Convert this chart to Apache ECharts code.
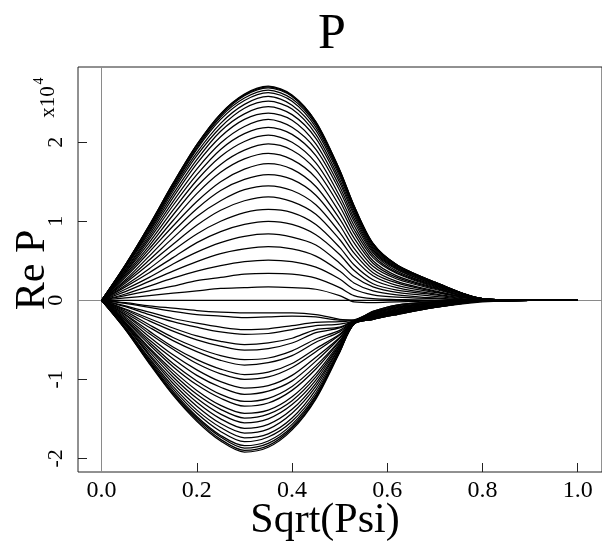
<!DOCTYPE html>
<html><head><meta charset="utf-8">
<script src="https://cdn.jsdelivr.net/npm/echarts@6/dist/echarts.min.js"></script>
<style>html,body{margin:0;padding:0;background:#fff}#chart{width:602px;height:541px}</style>
</head><body><div id="chart"></div>
<script>
// x positions (Sqrt(Psi)) at which each curve was read
const sqrtPsi = [0, 0.05, 0.1, 0.15, 0.2, 0.25, 0.3, 0.35, 0.4, 0.45, 0.5, 0.53, 0.57, 0.62, 0.7, 0.8, 0.9, 1.0];
// Re P values in units of 1e4, upper family (top curve first)
const up01 = [0,.45,.95,1.48,1.97,2.36,2.61,2.71,2.6,2.26,1.65,1.2,.72,.45,.23,.02,0,0];
const up02 = [0,.45,.95,1.48,1.97,2.36,2.6,2.7,2.59,2.26,1.65,1.2,.72,.45,.23,.02,0,0];
const up03 = [0,.45,.94,1.47,1.95,2.34,2.59,2.69,2.58,2.24,1.64,1.19,.71,.45,.23,.02,0,0];
const up04 = [0,.44,.93,1.45,1.93,2.32,2.56,2.66,2.55,2.22,1.62,1.18,.71,.44,.22,.02,0,0];
const up05 = [0,.44,.92,1.43,1.91,2.29,2.53,2.63,2.52,2.19,1.6,1.16,.7,.43,.22,.02,0,0];
const up06 = [0,.43,.9,1.41,1.87,2.24,2.48,2.58,2.47,2.15,1.57,1.14,.68,.42,.22,.02,0,0];
const up07 = [0,.42,.88,1.38,1.83,2.19,2.43,2.52,2.42,2.1,1.53,1.11,.66,.41,.21,.02,0,0];
const up08 = [0,.41,.86,1.34,1.78,2.14,2.36,2.45,2.35,2.05,1.49,1.08,.64,.4,.2,.02,0,0];
const up09 = [0,.39,.83,1.3,1.73,2.07,2.29,2.37,2.28,1.98,1.44,1.04,.62,.39,.2,.02,0,0];
const up10 = [0,.38,.8,1.25,1.66,1.99,2.2,2.29,2.19,1.91,1.39,1,.6,.37,.19,.02,0,0];
const up11 = [0,.36,.77,1.2,1.59,1.91,2.11,2.19,2.1,1.83,1.32,.95,.57,.35,.18,.02,0,0];
const up12 = [0,.35,.73,1.14,1.52,1.82,2.01,2.09,2,1.74,1.26,.9,.54,.34,.17,.01,0,0];
const up13 = [0,.33,.69,1.08,1.44,1.72,1.9,1.98,1.9,1.65,1.19,.85,.5,.31,.16,.01,0,0];
const up14 = [0,.31,.65,1.01,1.35,1.62,1.79,1.86,1.78,1.55,1.11,.79,.47,.29,.15,.01,0,0];
const up15 = [0,.29,.61,.94,1.25,1.5,1.66,1.73,1.66,1.44,1.03,.73,.43,.27,.14,.01,0,0];
const up16 = [0,.26,.56,.87,1.16,1.39,1.53,1.59,1.53,1.33,.95,.66,.39,.24,.12,.01,0,0];
const up17 = [0,.24,.51,.79,1.06,1.26,1.4,1.45,1.39,1.21,.86,.6,.35,.22,.11,.01,0,0];
const up18 = [0,.22,.46,.71,.95,1.14,1.26,1.31,1.25,1.09,.77,.53,.31,.19,.1,.01,0,0];
const up19 = [0,.19,.4,.63,.84,1,1.11,1.15,1.11,.96,.67,.45,.26,.16,.08,.01,0,0];
const up20 = [0,.17,.35,.54,.73,.87,.96,1,.96,.83,.58,.38,.21,.13,.07,0,0,0];
const up21 = [0,.14,.29,.46,.61,.73,.81,.84,.8,.7,.47,.3,.17,.1,.05,0,0,0];
const up22 = [0,.11,.24,.37,.49,.59,.65,.68,.65,.56,.37,.22,.12,.07,.03,0,0,0];
const up23 = [0,.08,.18,.28,.37,.44,.49,.51,.49,.42,.27,.14,.07,.04,.02,0,0,0];
const up24 = [0,.06,.12,.18,.25,.29,.33,.34,.33,.28,.16,.06,.02,.01,0,0,0,0];
const up25 = [0,.03,.06,.09,.12,.15,.16,.17,.16,.14,.06,-.02,-.03,-.02,-.01,0,0,0];
const mid00 = [0,0,0,0,0,0,0,0,0,0,0,0,0,0,0,0,0,0];
// lower family (closest to zero first)
const lo01 = [0,-.03,-.07,-.1,-.13,-.15,-.16,-.16,-.16,-.18,-.24,-.25,-.14,-.06,-.02,0,0,0];
const lo02 = [0,-.04,-.09,-.14,-.18,-.2,-.22,-.21,-.2,-.21,-.25,-.25,-.14,-.06,-.02,0,0,0];
const lo03 = [0,-.07,-.15,-.23,-.29,-.34,-.37,-.36,-.32,-.28,-.27,-.25,-.15,-.07,-.02,0,0,0];
const lo04 = [0,-.08,-.18,-.27,-.34,-.4,-.43,-.42,-.37,-.32,-.3,-.26,-.16,-.08,-.03,0,0,0];
const lo05 = [0,-.11,-.23,-.35,-.45,-.52,-.56,-.54,-.48,-.37,-.34,-.26,-.16,-.09,-.03,0,0,0];
const lo06 = [0,-.12,-.26,-.39,-.5,-.58,-.63,-.61,-.54,-.41,-.35,-.26,-.17,-.09,-.04,-.01,0,0];
const lo07 = [0,-.14,-.31,-.47,-.6,-.7,-.75,-.73,-.64,-.49,-.38,-.26,-.17,-.1,-.04,-.01,0,0];
const lo08 = [0,-.16,-.34,-.51,-.65,-.76,-.82,-.79,-.7,-.53,-.4,-.27,-.18,-.11,-.04,-.01,0,0];
const lo09 = [0,-.18,-.39,-.59,-.75,-.87,-.94,-.91,-.8,-.61,-.43,-.27,-.18,-.11,-.05,-.01,0,0];
const lo10 = [0,-.19,-.42,-.62,-.8,-.93,-1,-.97,-.85,-.65,-.44,-.27,-.19,-.12,-.05,-.01,0,0];
const lo11 = [0,-.21,-.46,-.69,-.88,-1.03,-1.11,-1.08,-.95,-.72,-.47,-.27,-.19,-.12,-.06,-.01,0,0];
const lo12 = [0,-.23,-.5,-.74,-.95,-1.1,-1.19,-1.15,-1.02,-.77,-.48,-.28,-.2,-.13,-.06,-.01,0,0];
const lo13 = [0,-.25,-.53,-.8,-1.02,-1.19,-1.28,-1.24,-1.09,-.83,-.51,-.28,-.2,-.14,-.06,-.01,0,0];
const lo14 = [0,-.26,-.56,-.84,-1.07,-1.24,-1.34,-1.3,-1.14,-.87,-.52,-.28,-.21,-.14,-.07,-.01,0,0];
const lo15 = [0,-.28,-.6,-.89,-1.14,-1.33,-1.43,-1.39,-1.22,-.93,-.54,-.28,-.21,-.15,-.07,-.01,0,0];
const lo16 = [0,-.29,-.62,-.93,-1.19,-1.38,-1.49,-1.44,-1.27,-.97,-.56,-.29,-.21,-.15,-.07,-.01,0,0];
const lo17 = [0,-.3,-.65,-.97,-1.24,-1.44,-1.55,-1.5,-1.32,-1.01,-.57,-.29,-.22,-.15,-.07,-.01,0,0];
const lo18 = [0,-.31,-.68,-1.01,-1.29,-1.5,-1.62,-1.57,-1.38,-1.05,-.59,-.29,-.22,-.16,-.08,-.01,0,0];
const lo19 = [0,-.32,-.7,-1.05,-1.34,-1.56,-1.68,-1.63,-1.43,-1.09,-.6,-.29,-.23,-.16,-.08,-.01,0,0];
const lo20 = [0,-.34,-.73,-1.09,-1.39,-1.61,-1.74,-1.69,-1.49,-1.13,-.62,-.29,-.23,-.17,-.08,-.01,0,0];
const lo21 = [0,-.35,-.75,-1.12,-1.43,-1.66,-1.79,-1.73,-1.53,-1.17,-.63,-.3,-.23,-.17,-.08,-.01,0,0];
const lo22 = [0,-.36,-.77,-1.15,-1.47,-1.71,-1.84,-1.78,-1.57,-1.2,-.64,-.3,-.24,-.17,-.09,-.01,0,0];
const lo23 = [0,-.36,-.78,-1.17,-1.49,-1.73,-1.87,-1.81,-1.6,-1.22,-.65,-.3,-.24,-.18,-.09,-.01,0,0];
const lo24 = [0,-.37,-.79,-1.19,-1.51,-1.76,-1.9,-1.84,-1.62,-1.24,-.65,-.3,-.24,-.18,-.09,-.01,0,0];
const lo25 = [0,-.37,-.8,-1.2,-1.53,-1.78,-1.92,-1.86,-1.64,-1.25,-.66,-.3,-.24,-.18,-.09,-.02,0,0];

const xTickValues = [0, 0.2, 0.4, 0.6, 0.8, 1.0];
const yTickValues = [-2, -1, 0, 1, 2];

const curves = [up01,up02,up03,up04,up05,up06,up07,up08,up09,up10,up11,up12,up13,up14,up15,up16,up17,up18,up19,up20,up21,up22,up23,up24,up25,
  mid00,
  lo01,lo02,lo03,lo04,lo05,lo06,lo07,lo08,lo09,lo10,lo11,lo12,lo13,lo14,lo15,lo16,lo17,lo18,lo19,lo20,lo21,lo22,lo23,lo24,lo25];

const SERIF = '"Liberation Serif","Times New Roman",serif';
const series = curves.map(function (arr) {
  return {
    type: 'line', showSymbol: false, smooth: 0.3, silent: true, animation: false, z: 3,
    lineStyle: { color: '#000', width: 1.25 },
    data: sqrtPsi.map(function (x, i) { return [x, arr[i]]; })
  };
});
series.unshift({
  type: 'line', data: [], silent: true, animation: false, z: 1,
  markLine: {
    silent: true, z: 1, symbol: ['none', 'none'], label: { show: false }, animation: false,
    lineStyle: { color: '#8a8a8a', width: 1, type: 'solid' },
    data: [{ xAxis: 0 }, { yAxis: 0 }]
  }
});

const chart = echarts.init(document.getElementById('chart'), null, { renderer: 'canvas' });
chart.setOption({
  animation: false,
  backgroundColor: '#fff',
  grid: { left: 78, top: 67, right: -2, bottom: 69, show: true, borderColor: '#222', borderWidth: 1, containLabel: false },
  xAxis: {
    type: 'value', min: -0.0496, max: 1.051,
    axisLine: { show: false, onZero: false },
    splitLine: { show: false },
    axisTick: { show: true, inside: true, length: 9, customValues: xTickValues, lineStyle: { color: '#222', width: 1 } },
    axisLabel: { show: true, customValues: xTickValues, margin: 7, color: '#000', fontSize: 24, fontFamily: SERIF,
      formatter: function (v) { return v.toFixed(1); } }
  },
  yAxis: {
    type: 'value', min: -2.173, max: 2.953,
    axisLine: { show: false, onZero: false },
    splitLine: { show: false },
    axisTick: { show: true, inside: true, length: 9, customValues: yTickValues, lineStyle: { color: '#222', width: 1 } },
    axisLabel: { show: true, customValues: yTickValues, rotate: 90, margin: 11, color: '#000', fontSize: 22, fontFamily: SERIF,
      formatter: function (v) { return String(Math.round(v)); } }
  },
  graphic: [
    { type: 'text', x: 332, y: 35, silent: true,
      style: { text: 'P', font: '50px ' + SERIF, fill: '#000', align: 'center', verticalAlign: 'middle', textAlign: 'center', textVerticalAlign: 'middle' } },
    { type: 'text', x: 325, y: 521, silent: true,
      style: { text: 'Sqrt(Psi)', font: '42px ' + SERIF, fill: '#000', align: 'center', verticalAlign: 'middle', textAlign: 'center', textVerticalAlign: 'middle' } },
    { type: 'text', x: 33, y: 270, rotation: Math.PI / 2, silent: true,
      style: { text: 'Re P', font: '42px ' + SERIF, fill: '#000', align: 'center', verticalAlign: 'middle', textAlign: 'center', textVerticalAlign: 'middle' } },
    { type: 'group', x: 48, y: 102, rotation: Math.PI / 2, silent: true, children: [
      { type: 'text', x: 0, y: 0, style: { text: 'x10', font: '21px ' + SERIF, fill: '#000', align: 'center', verticalAlign: 'middle', textAlign: 'center', textVerticalAlign: 'middle' } },
      { type: 'text', x: 21, y: -9, style: { text: '4', font: '14px ' + SERIF, fill: '#000', align: 'center', verticalAlign: 'middle', textAlign: 'center', textVerticalAlign: 'middle' } }
    ] }
  ],
  series: series
});
</script></body></html>
